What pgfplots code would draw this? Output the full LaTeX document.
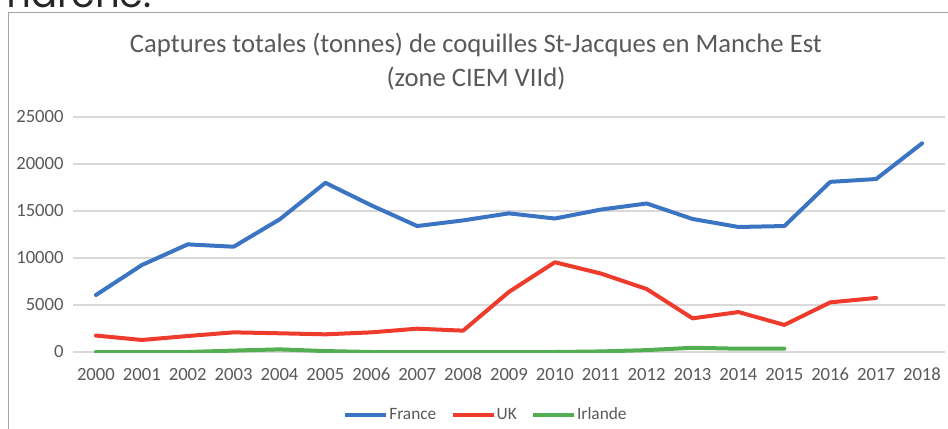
\documentclass[border=0pt]{standalone}
\usepackage{fontspec}
\setmainfont{Carlito}
\newfontfamily\gothic{Poppins}
\usepackage{pgfplots}
\pgfplotsset{compat=1.18}

\definecolor{txt}{HTML}{595959}
\definecolor{gridc}{HTML}{D9D9D9}
\definecolor{framec}{HTML}{A6A6A6}
\definecolor{franceblue}{HTML}{3A74C2}
\definecolor{ukred}{HTML}{EE3B2C}
\definecolor{irlgreen}{HTML}{52AE50}

\begin{document}
\begin{tikzpicture}[x=0.75pt,y=0.75pt]
\path[use as bounding box] (0,0) rectangle (948,428);
\clip (0,0) rectangle (948,428);
% bottom of a sentence cut off above the chart
\node[anchor=base west, inner sep=0pt, text=black!85] at (-9,420)
  {\gothic\fontsize{29pt}{30pt}\selectfont marche.};
\draw[framec, line width=1.1pt] (8.5,415.3) rectangle (990,-30);

\begin{axis}[
    scale only axis,
    width=654pt, height=176.25pt,
    at={(54.75pt,57pt)}, anchor=south west,
    xmin=1999.5, xmax=2018.5,
    ymin=0, ymax=25000,
    xtick={2000,...,2018},
    ytick={0,5000,...,25000},
    scaled y ticks=false,
    major tick length=0pt,
    axis line style={draw=none},
    ymajorgrids,
    grid style={gridc, line width=0.8pt},
    tick label style={text=txt, font=\fontsize{14pt}{16pt}\selectfont},
    /pgf/number format/1000 sep={},
    /pgf/number format/assume math mode=true,
    xticklabel style={anchor=north, text height=9.5pt, text depth=0pt, yshift=-8.5pt},
    yticklabel style={xshift=-3.5pt},
    every axis plot/.append style={line width=3pt, line join=round, line cap=round},
    legend columns=3,
    legend style={at={(axis description cs:0.473,-0.268)}, anchor=center,
      draw=none, fill=none, text=txt, font=\fontsize{13pt}{15pt}\selectfont,
      nodes={inner sep=0.75pt},
      /tikz/every even column/.append style={column sep=10pt}},
    legend image code/.code={\draw[#1, line width=3pt, line cap=butt] (0pt,0pt) -- (30.75pt,0pt);},
]
\addplot[franceblue] coordinates {
 (2000,6060) (2001,9250) (2002,11450) (2003,11200) (2004,14100)
 (2005,18000) (2006,15600) (2007,13400) (2008,14000) (2009,14750)
 (2010,14200) (2011,15150) (2012,15800) (2013,14150) (2014,13300)
 (2015,13400) (2016,18100) (2017,18400) (2018,22200)};
\addlegendentry{France}
\addplot[ukred] coordinates {
 (2000,1750) (2001,1280) (2002,1700) (2003,2090) (2004,1990)
 (2005,1880) (2006,2090) (2007,2480) (2008,2270) (2009,6400)
 (2010,9550) (2011,8350) (2012,6700) (2013,3580) (2014,4250)
 (2015,2880) (2016,5280) (2017,5750)};
\addlegendentry{UK}
\addplot[irlgreen] coordinates {
 (2000,0) (2001,0) (2002,0) (2003,150) (2004,280)
 (2005,100) (2006,0) (2007,0) (2008,0) (2009,0)
 (2010,0) (2011,60) (2012,200) (2013,450) (2014,350)
 (2015,350)};
\addlegendentry{Irlande}
\end{axis}

\node[anchor=base, inner sep=0pt, text=txt, font=\fontsize{20pt}{22pt}\selectfont]
  at (476,375) {Captures totales (tonnes) de coquilles St-Jacques en Manche Est};
\node[anchor=base, inner sep=0pt, text=txt, font=\fontsize{20pt}{22pt}\selectfont]
  at (476,341) {(zone CIEM VIId)};
\end{tikzpicture}
\end{document}
